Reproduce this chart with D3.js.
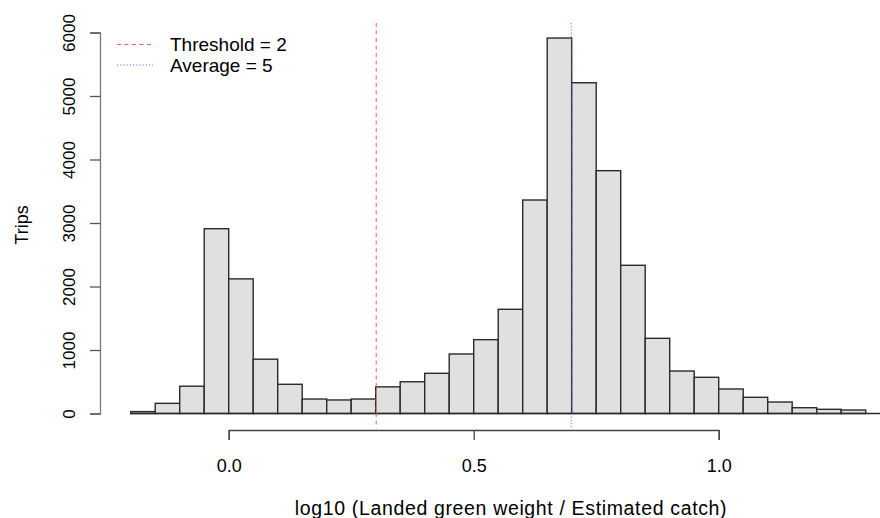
<!DOCTYPE html>
<html>
<head>
<meta charset="utf-8">
<script src="https://cdn.jsdelivr.net/npm/d3@7"></script>
<style>
  html, body { margin: 0; padding: 0; background: #fff; }
  svg { display: block; }
  text { font-family: "Liberation Sans", Arial, Helvetica, sans-serif; fill: #000; }
</style>
</head>
<body>
<svg id="chart" width="880" height="518"></svg>
<script>
// Histogram bin breaks (log10 ratio) and trip counts per bin
const breaks = [-0.20, -0.15, -0.10, -0.05, 0.00, 0.05, 0.10, 0.15, 0.20, 0.25,
                0.30, 0.35, 0.40, 0.45, 0.50, 0.55, 0.60, 0.65, 0.70, 0.75,
                0.80, 0.85, 0.90, 0.95, 1.00, 1.05, 1.10, 1.15, 1.20, 1.25, 1.30];
const counts = [30, 160, 430, 2910, 2120, 855, 460, 228, 213, 228,
                420, 500, 633, 937, 1163, 1641, 3362, 5913, 5209, 3824,
                2334, 1184, 669, 570, 386, 255, 181, 91, 66, 55];

const xTicks = [0, 0.5, 1.0];
const yTicks = [0, 1000, 2000, 3000, 4000, 5000, 6000];

// Reference lines: log10 of the threshold and average ratios
const refLines = [
  { label: "Threshold = 2", value: Math.log10(2), color: "#ff5a5a", dash: "4,3.5" },
  { label: "Average = 5",   value: Math.log10(5), color: "#6a6aff", dash: "1.2,2" }
];

const svg = d3.select("#chart");

const x = d3.scaleLinear().domain([0, 1]).range([228.7, 718.7]);
const y = d3.scaleLinear().domain([0, 6000]).range([413.5, 32.5]);

// plot region limits (data range padded by 4%)
const usrX = [-0.26, 1.36];
const usrY = [-236, 6150];

// bars
const bins = counts.map((c, i) => ({ x0: breaks[i], x1: breaks[i + 1], n: c }));
svg.append("g")
  .selectAll("rect")
  .data(bins)
  .join("rect")
  .attr("x", d => x(d.x0))
  .attr("y", d => y(d.n))
  .attr("width", d => x(d.x1) - x(d.x0))
  .attr("height", d => y(0) - y(d.n))
  .attr("fill", "#e0e0e0")
  .attr("stroke", "#2a2a2a")
  .attr("stroke-width", 1.4);

// baseline under the bars
svg.append("line")
  .attr("x1", x(breaks[0])).attr("x2", x(usrX[1]))
  .attr("y1", y(0)).attr("y2", y(0))
  .attr("stroke", "#2a2a2a").attr("stroke-width", 1.4);

// vertical reference lines
svg.append("g")
  .selectAll("line")
  .data(refLines)
  .join("line")
  .attr("x1", d => x(d.value)).attr("x2", d => x(d.value))
  .attr("y1", y(usrY[1])).attr("y2", y(usrY[0]))
  .attr("stroke", d => d.color)
  .attr("stroke-width", 1)
  .attr("stroke-dasharray", d => d.dash);

// x axis
const xAxis = svg.append("g")
  .attr("transform", "translate(0,430)")
  .call(d3.axisBottom(x).tickValues(xTicks).tickSize(10).tickSizeOuter(10)
    .tickFormat(d3.format(".1f")));
xAxis.select(".domain").attr("stroke", "#444").attr("stroke-width", 1.3);
xAxis.selectAll(".tick line").attr("stroke", "#444").attr("stroke-width", 1.3);
xAxis.selectAll(".tick text")
  .attr("y", 42).attr("dy", 0)
  .style("font-size", "18px")
  .style("font-family", "'Liberation Sans', Arial, sans-serif")
  .attr("fill", "#000");

// y axis
const yAxis = svg.append("g")
  .attr("transform", "translate(100,0)")
  .call(d3.axisLeft(y).tickValues(yTicks).tickSize(10).tickSizeOuter(10)
    .tickFormat(d3.format("d")));
yAxis.select(".domain").attr("stroke", "#777").attr("stroke-width", 1.3);
yAxis.selectAll(".tick line").attr("stroke", "#555").attr("stroke-width", 1.3);
yAxis.selectAll(".tick text")
  .attr("x", null).attr("dy", 0)
  .attr("transform", "translate(-25,0) rotate(-90)")
  .attr("text-anchor", "middle")
  .style("font-size", "17px")
  .style("font-family", "'Liberation Sans', Arial, sans-serif")
  .attr("fill", "#000");

// axis titles
svg.append("text")
  .attr("x", 511).attr("y", 515)
  .attr("text-anchor", "middle")
  .style("font-size", "19.5px")
  .style("letter-spacing", "0.65px")
  .text("log10 (Landed green weight / Estimated catch)");

svg.append("text")
  .attr("transform", "translate(28,225) rotate(-90)")
  .attr("text-anchor", "middle")
  .style("font-size", "18px")
  .text("Trips");

// legend
const legend = svg.append("g").attr("transform", "translate(117,44.5)");
const item = legend.selectAll("g")
  .data(refLines)
  .join("g")
  .attr("transform", (d, i) => `translate(0,${i * 20.5})`);
item.append("line")
  .attr("x1", 0).attr("x2", 36)
  .attr("stroke", d => d.color)
  .attr("stroke-width", 1)
  .attr("stroke-dasharray", d => d.dash);
item.append("text")
  .attr("x", 53).attr("y", 6.8)
  .style("font-size", "19px")
  .text(d => d.label);
</script>
</body>
</html>
